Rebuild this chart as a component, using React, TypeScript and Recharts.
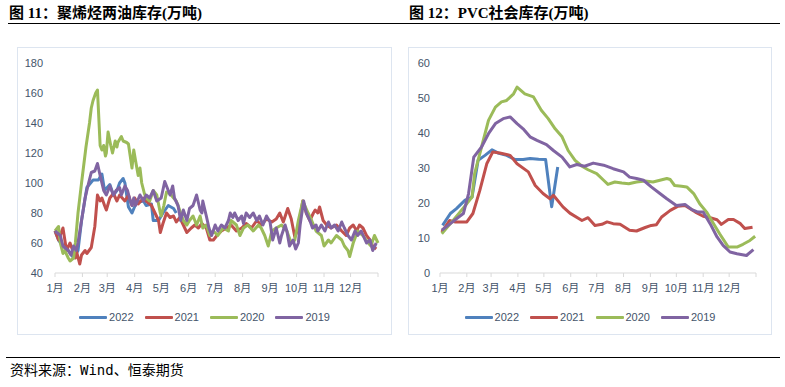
import React from 'react';
import { LineChart, Line, XAxis, YAxis } from 'recharts';

const monthTicks = [0, 31, 59, 90, 120, 151, 181, 212, 243, 273, 304, 334, 365];
const monthLabels = ['1月', '2月', '3月', '4月', '5月', '6月', '7月', '8月', '9月', '10月', '11月', '12月', ''];
const seriesNames = ['2022', '2021', '2020', '2019'];
const seriesColors = ['#4F81BD', '#C0504D', '#9BBB59', '#8064A2'];

const leftTitle = '图 11：聚烯烃两油库存(万吨)';
const rightTitle = '图 12：PVC社会库存(万吨)';
const sourceText = '资料来源：Wind、恒泰期货';

const leftYTicks = [40, 60, 80, 100, 120, 140, 160, 180];
const rightYTicks = [0, 10, 20, 30, 40, 50, 60];

// 聚烯烃两油库存 (day of year, 万吨)
const po2022Days = [0, 4, 9, 15, 21, 26, 30, 36, 43, 49, 53, 56, 62, 66, 70, 73, 77, 79, 83, 87, 92, 100, 103, 109, 111, 117, 122, 128, 134, 137];
const po2022Vals = [68, 62, 58, 55, 50, 55, 75, 97, 102, 102, 106, 95, 99, 92, 95, 100, 103, 100, 84, 80, 87, 88, 85, 86, 75, 75, 80, 85, 83, 80];

const po2021Days = [0, 4, 9, 13, 17, 23, 24, 28, 30, 34, 36, 41, 45, 48, 51, 53, 56, 58, 62, 66, 70, 73, 79, 83, 87, 90, 94, 100, 103, 109, 113, 117, 119, 122, 126, 130, 134, 137, 141, 145, 149, 154, 158, 162, 166, 171, 175, 179, 183, 188, 194, 199, 205, 211, 216, 222, 228, 233, 239, 245, 250, 254, 258, 263, 267, 271, 275, 280, 284, 288, 292, 294, 297, 299, 303, 307, 312, 318, 324, 329, 333, 337, 341, 344, 348, 352, 356, 359, 363];
const po2021Vals = [68, 62, 70, 55, 60, 50, 55, 46, 52, 55, 53, 57, 71, 92, 88, 90, 85, 82, 90, 93, 88, 92, 88, 92, 85, 90, 86, 90, 88, 85, 80, 75, 67, 73, 80, 77, 78, 74, 77, 72, 67, 70, 72, 70, 73, 70, 62, 62, 65, 68, 70, 72, 68, 70, 73, 70, 75, 72, 76, 74, 76, 80, 74, 83, 76, 64, 70, 88, 80, 75, 80, 82, 80, 84, 75, 72, 70, 72, 68, 65, 70, 72, 68, 72, 70, 65, 62, 58, 56];

const po2020Days = [0, 4, 6, 9, 11, 15, 17, 21, 23, 26, 30, 35, 39, 41, 43, 46, 48, 51, 53, 55, 57, 58, 60, 63, 65, 68, 70, 71, 75, 77, 81, 83, 85, 87, 89, 91, 94, 96, 98, 101, 103, 107, 111, 115, 119, 120, 123, 126, 130, 134, 137, 139, 142, 145, 149, 152, 156, 160, 164, 167, 171, 175, 179, 184, 190, 196, 199, 205, 209, 213, 218, 224, 230, 233, 237, 241, 245, 250, 256, 262, 267, 271, 275, 280, 286, 290, 295, 301, 304, 309, 312, 318, 324, 327, 331, 333, 337, 342, 348, 354, 357, 361, 365];
const po2020Vals = [68, 71, 60, 53, 55, 50, 48, 50, 60, 80, 100, 124, 140, 150, 155, 160, 162, 125, 122, 125, 118, 120, 134, 125, 120, 128, 124, 127, 131, 128, 127, 126, 118, 110, 122, 115, 105, 110, 100, 93, 90, 88, 95, 92, 80, 78, 85, 94, 93, 90, 88, 85, 80, 75, 72, 75, 78, 72, 78, 70, 72, 65, 68, 65, 70, 68, 75, 72, 65, 70, 72, 68, 72, 70, 65, 58, 68, 70, 72, 68, 60, 62, 75, 88, 80, 75, 68, 65, 58, 62, 60, 65, 62, 58, 55, 51, 60, 68, 65, 60, 58, 65, 60];

const po2019Days = [0, 6, 9, 15, 18, 21, 24, 26, 30, 34, 38, 41, 45, 48, 51, 55, 58, 62, 66, 69, 73, 75, 79, 82, 85, 87, 89, 91, 96, 100, 103, 107, 111, 115, 120, 124, 128, 130, 133, 135, 139, 142, 145, 149, 152, 156, 160, 164, 166, 167, 171, 174, 177, 181, 184, 188, 192, 196, 198, 201, 203, 207, 211, 213, 216, 220, 224, 228, 231, 235, 239, 243, 246, 250, 254, 256, 260, 262, 265, 269, 272, 275, 277, 281, 284, 288, 291, 295, 297, 301, 305, 309, 312, 316, 320, 324, 327, 331, 335, 339, 342, 346, 352, 356, 359, 363];
const po2019Vals = [68, 65, 58, 55, 52, 58, 55, 60, 75, 90, 100, 107, 108, 113, 105, 95, 92, 98, 92, 95, 97, 92, 98, 95, 88, 85, 90, 85, 92, 88, 92, 90, 95, 88, 90, 101, 95, 92, 98, 90, 85, 75, 82, 75, 83, 85, 92, 82, 80, 88, 78, 70, 65, 72, 68, 72, 70, 75, 80, 77, 80, 75, 78, 73, 80, 77, 80, 75, 78, 72, 78, 74, 62, 70, 60, 65, 72, 68, 58, 62, 56, 60, 72, 88, 80, 75, 70, 72, 68, 72, 68, 74, 70, 72, 68, 74, 70, 65, 62, 68, 65, 68, 60, 62, 55, 60];

// PVC社会库存 (day of year, 万吨)
const pvc2022Days = [3, 12, 19, 29, 37, 44, 52, 60, 67, 77, 87, 96, 104, 114, 122, 129, 136];
const pvc2022Vals = [13.6, 17, 18.4, 20.8, 21.7, 32.2, 33.6, 35.2, 34.3, 33.6, 32.4, 32.4, 32.7, 32.5, 32.4, 18.9, 30.3];

const pvc2021Days = [2, 11, 17, 31, 38, 46, 54, 61, 69, 81, 89, 102, 110, 119, 127, 131, 142, 150, 164, 171, 179, 187, 193, 200, 208, 219, 227, 237, 244, 250, 256, 266, 275, 283, 295, 304, 312, 320, 325, 333, 339, 347, 352, 361];
const pvc2021Vals = [11.7, 15, 14.6, 14.6, 17, 23.6, 31.2, 34.6, 34.3, 33.6, 31.2, 28.9, 25, 22.7, 21.2, 22.2, 18.9, 17.1, 15, 15.8, 13.6, 13.9, 14.6, 14.1, 13.9, 12.2, 12, 13, 13.6, 13.8, 16, 17.9, 19.1, 19.3, 17.4, 16.2, 15.8, 15.2, 13.9, 15.3, 15.3, 14.1, 12.7, 13.1];

const pvc2020Days = [2, 12, 23, 31, 37, 40, 48, 56, 64, 71, 77, 85, 89, 98, 108, 117, 125, 133, 141, 148, 156, 164, 171, 181, 189, 194, 202, 210, 218, 227, 237, 246, 254, 262, 266, 271, 279, 285, 293, 300, 308, 316, 323, 333, 343, 350, 358, 364];
const pvc2020Vals = [11.2, 14.1, 17.4, 19.8, 21.7, 28.4, 36, 43.6, 47.4, 48.9, 49.3, 51.2, 53.1, 51.2, 50.3, 46.5, 44.1, 41.2, 38.9, 35, 32.2, 30.5, 29.5, 28.4, 26.5, 25.3, 26, 25.7, 25.5, 26, 26.3, 26, 26.5, 27, 26.7, 25, 24.8, 24.6, 22.7, 19.8, 17.4, 14.1, 11.2, 7.4, 7.4, 8.2, 9.3, 10.5];

const pvc2019Days = [2, 12, 19, 27, 33, 39, 48, 56, 64, 73, 81, 89, 96, 104, 112, 123, 131, 141, 150, 158, 167, 177, 189, 200, 212, 219, 227, 235, 244, 254, 262, 273, 283, 291, 298, 304, 312, 320, 327, 335, 343, 354, 362];
const pvc2019Vals = [12.2, 14.1, 15.5, 17, 22.7, 33.1, 36, 39.8, 42.7, 44.1, 44.6, 42.7, 41.2, 38.9, 37.9, 36.7, 35, 33.1, 30.3, 31, 30.5, 31.4, 30.8, 29.8, 28.9, 27.4, 27, 26.5, 24.6, 22.7, 21.2, 19.3, 19.6, 18.1, 17.4, 17.4, 14.1, 10.3, 7.9, 6, 5.5, 5, 6.7];

const zip = (days: number[], vals: number[]) => days.map((d, i) => ({ d, v: vals[i] }));

const leftSeries = [zip(po2022Days, po2022Vals), zip(po2021Days, po2021Vals), zip(po2020Days, po2020Vals), zip(po2019Days, po2019Vals)];
const rightSeries = [zip(pvc2022Days, pvc2022Vals), zip(pvc2021Days, pvc2021Vals), zip(pvc2020Days, pvc2020Vals), zip(pvc2019Days, pvc2019Vals)];

const tickColor = '#44546A';
const axisFont = '"Liberation Sans", "Noto Sans CJK SC", sans-serif';
const boxBorder = '#dde5f0';

type PanelProps = {
  left: number;
  top: number;
  width: number;
  series: { d: number; v: number }[][];
  yDomain: [number, number];
  yTicks: number[];
  yWidth: number;
  yMargin: number;
  rightMargin: number;
};

function Panel({ left, top, width, series, yDomain, yTicks, yWidth, yMargin, rightMargin }: PanelProps) {
  return (
    <div style={{ position: 'absolute', left, top, width, height: 288, border: `1px solid ${boxBorder}`, boxSizing: 'border-box' }}>
      <div style={{ position: 'absolute', left: -1, top: -1 }}>
        <LineChart width={width} height={260} margin={{ top: 16, right: rightMargin, bottom: 4, left: 0 }}>
          <XAxis
            dataKey="d"
            type="number"
            domain={[0, 365]}
            ticks={monthTicks}
            interval={0}
            tickFormatter={(t: number) => monthLabels[monthTicks.indexOf(t)] ?? ''}
            axisLine={{ stroke: '#d9d9d9' }}
            tickLine={{ stroke: '#d9d9d9' }}
            tickSize={4}
            tickMargin={7}
            height={30}
            tick={{ fill: tickColor, fontSize: 11, fontFamily: axisFont }}
            allowDuplicatedCategory={false}
          />
          <YAxis
            type="number"
            domain={yDomain}
            ticks={yTicks}
            interval={0}
            axisLine={false}
            tickLine={false}
            width={yWidth}
            tickMargin={yMargin}
            tick={{ fill: tickColor, fontSize: 11, fontFamily: axisFont }}
          />
          {series.map((s, i) => (
            <Line
              key={seriesNames[i]}
              data={s}
              dataKey="v"
              name={seriesNames[i]}
              type="linear"
              stroke={seriesColors[i]}
              strokeWidth={3}
              strokeLinejoin="round"
              dot={false}
              activeDot={false}
              isAnimationActive={false}
            />
          ))}
        </LineChart>
      </div>
      <div style={{ position: 'absolute', left: 0, top: 262, width: width - 2, display: 'flex', justifyContent: 'center', alignItems: 'center' }}>
        {seriesNames.map((n, i) => (
          <div key={n} style={{ display: 'flex', alignItems: 'center', marginRight: i < seriesNames.length - 1 ? 11 : 0 }}>
            <div style={{ width: 28, height: 3, background: seriesColors[i], borderRadius: 1 }} />
            <span style={{ marginLeft: 2, fontSize: 11, color: tickColor, fontFamily: axisFont, lineHeight: '14px' }}>{n}</span>
          </div>
        ))}
      </div>
    </div>
  );
}

export default function App() {
  const titleStyle: React.CSSProperties = {
    position: 'absolute',
    top: 4,
    fontSize: 15,
    fontWeight: 'bold',
    fontFamily: '"Liberation Serif", "Noto Sans CJK SC", serif',
    color: '#000',
    whiteSpace: 'nowrap',
    lineHeight: '18px',
  };
  return (
    <div style={{ position: 'absolute', left: 0, top: 0, width: 785, height: 387, background: '#fff', overflow: 'hidden' }}>
      <div style={{ ...titleStyle, left: 9 }}>{leftTitle}</div>
      <div style={{ ...titleStyle, left: 409 }}>{rightTitle}</div>
      <div style={{ position: 'absolute', left: 8, top: 23, width: 772, height: 0, borderTop: '1.5px solid #000' }} />
      <Panel left={17} top={47} width={375} series={leftSeries} yDomain={[40, 180]} yTicks={leftYTicks} yWidth={38} yMargin={6} rightMargin={14} />
      <Panel left={408} top={47} width={364} series={rightSeries} yDomain={[0, 60]} yTicks={rightYTicks} yWidth={32} yMargin={4} rightMargin={16} />
      <div style={{ position: 'absolute', left: 6, top: 357, width: 774, height: 0, borderTop: '1.5px solid #000' }} />
      <div style={{ position: 'absolute', left: 10, top: 361, fontSize: 14, lineHeight: '18px', fontFamily: '"DejaVu Sans Mono", "Noto Sans CJK SC", monospace', color: '#000', whiteSpace: 'nowrap' }}>{sourceText}</div>
    </div>
  );
}
